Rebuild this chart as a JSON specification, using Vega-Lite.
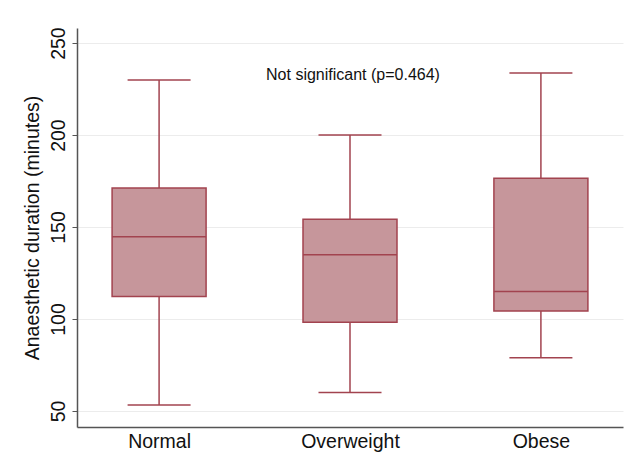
{
  "$schema": "https://vega.github.io/schema/vega-lite/v6.json",
  "width": 546,
  "height": 399,
  "autosize": {"type": "none"},
  "padding": {"left": 77, "top": 28, "right": 7, "bottom": 36},
  "background": "white",
  "config": {
    "view": {"stroke": null},
    "font": "Liberation Sans"
  },
  "datasets": {
    "boxes": [
      {"group": "Normal", "min": 53.3, "q1": 112.3, "median": 144.7, "q3": 171.2, "max": 229.9},
      {"group": "Overweight", "min": 60.1, "q1": 98.2, "median": 135, "q3": 154.3, "max": 200},
      {"group": "Obese", "min": 79, "q1": 104.3, "median": 115, "q3": 176.5, "max": 233.7}
    ],
    "note": [
      {"group": "Overweight", "y": 232.6, "label": "Not significant (p=0.464)"}
    ]
  },
  "data": {"name": "boxes"},
  "encoding": {
    "x": {
      "field": "group",
      "type": "nominal",
      "sort": ["Normal", "Overweight", "Obese"],
      "scale": {"type": "point", "padding": 0.43},
      "axis": {
        "title": null,
        "labelAngle": 0,
        "labelFontSize": 19.5,
        "labelColor": "#111",
        "labelPadding": 5,
        "ticks": false,
        "domainColor": "#555",
        "domainWidth": 1.5,
        "grid": false
      }
    }
  },
  "layer": [
    {
      "mark": {"type": "rule", "color": "#a2434f", "strokeWidth": 1.5},
      "encoding": {
        "y": {
          "field": "min",
          "type": "quantitative",
          "scale": {"domain": [41.3, 258.2], "nice": false, "zero": false},
          "axis": {
            "title": "Anaesthetic duration (minutes)",
            "titleFontSize": 19.5,
            "titleFontWeight": "normal",
            "titleColor": "#111",
            "titlePadding": 6,
            "values": [50, 100, 150, 200, 250],
            "labelAngle": -90,
            "labelAlign": "center",
            "labelBaseline": "bottom",
            "labelFontSize": 19.5,
            "labelColor": "#111",
            "labelPadding": 4,
            "tickSize": 5,
            "tickColor": "#555",
            "domainColor": "#555",
            "domainWidth": 1.5,
            "grid": true,
            "gridColor": "#ececec",
            "gridWidth": 1
          }
        },
        "y2": {"field": "max"}
      }
    },
    {
      "mark": {"type": "bar", "size": 94, "fill": "#c6969b", "stroke": "#a2434f", "strokeWidth": 1.5},
      "encoding": {
        "y": {"field": "q1", "type": "quantitative"},
        "y2": {"field": "q3"}
      }
    },
    {
      "mark": {"type": "tick", "size": 94, "thickness": 1.5, "color": "#a2434f", "opacity": 1},
      "encoding": {"y": {"field": "median", "type": "quantitative"}}
    },
    {
      "mark": {"type": "tick", "size": 63, "thickness": 1.5, "color": "#a2434f", "opacity": 1},
      "encoding": {"y": {"field": "min", "type": "quantitative"}}
    },
    {
      "mark": {"type": "tick", "size": 63, "thickness": 1.5, "color": "#a2434f", "opacity": 1},
      "encoding": {"y": {"field": "max", "type": "quantitative"}}
    },
    {
      "data": {"name": "note"},
      "mark": {"type": "text", "fontSize": 16, "color": "#111", "align": "center", "baseline": "middle", "dx": 3},
      "encoding": {
        "y": {"field": "y", "type": "quantitative"},
        "text": {"field": "label"}
      }
    }
  ]
}
